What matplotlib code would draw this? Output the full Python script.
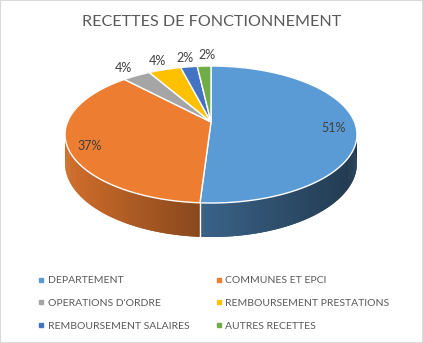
import numpy as np
import matplotlib
matplotlib.use("Agg")
import matplotlib.pyplot as plt
from matplotlib.collections import PolyCollection
from matplotlib.lines import Line2D
from matplotlib.patches import Rectangle
from matplotlib.colors import to_rgb

plt.rcParams["font.family"] = ["Lato", "DejaVu Sans"]

TITLE = "RECETTES DE FONCTIONNEMENT"
categories = [
    "DEPARTEMENT",
    "COMMUNES ET EPCI",
    "OPERATIONS D'ORDRE",
    "REMBOURSEMENT PRESTATIONS",
    "REMBOURSEMENT SALAIRES",
    "AUTRES RECETTES",
]
shares = [51.0, 37.0, 3.7, 4.3, 2.2, 1.8]
colors = ["#5B9BD5", "#ED7D31", "#A5A5A5", "#FFC000", "#4472C4", "#70AD47"]
# side wall shading multipliers (left edge, right edge) for each slice
side_shade = [(0.64, 0.37), (0.88, 0.58), (0.7, 0.5), (0.7, 0.5), (0.7, 0.5), (0.7, 0.5)]

# pie geometry in pixel space (Excel-like 3D pie with perspective)
CX, CY = 211.0, 122.0
RX, RY = 143.5, 66.2
PERSP = 5.47
DEPTH = 27.8
LABEL_COLOR = "#404040"
TEXT_COLOR = "#595959"


def project(theta, r=1.0, drop=0.0):
    """theta clockwise from 12 o'clock; returns pixel (x, y) with y downwards."""
    u = r * np.sin(theta)
    v = r * np.cos(theta)
    s = PERSP / (PERSP + v)
    return CX + RX * u * s, CY - RY * v * s + drop * s


fig = plt.figure(figsize=(4.23, 3.43), dpi=100)
ax = fig.add_axes([0, 0, 1, 1])
ax.set_xlim(0, 423)
ax.set_ylim(343, 0)
ax.axis("off")

total = sum(shares)
bounds = np.concatenate([[0], np.cumsum(shares)]) / total * 2 * np.pi

# side walls, painted back to front; strips overlap a little to hide seams
strips, strip_colors, strip_depth = [], [], []
for i, col in enumerate(colors):
    a0, a1 = bounds[i], bounds[i + 1]
    n = max(int(np.degrees(a1 - a0) * 2), 2)
    t = np.linspace(a0, a1, n + 1)
    step = t[1] - t[0]
    xs_top = [project(a)[0] for a in t]
    front = [x for a, x in zip(t, xs_top) if np.cos(a) < 0.15]
    xmin, xmax = (min(front), max(front)) if front else (0, 1)
    base = np.array(to_rgb(col))
    f_left, f_right = side_shade[i]
    for k in range(n):
        lo = t[k] - (0.6 * step if k > 0 else 0)
        hi = t[k + 1] + (0.6 * step if k < n - 1 else 0)
        p0, p1 = project(lo), project(hi)
        q1, q0 = project(hi, drop=DEPTH), project(lo, drop=DEPTH)
        xm = 0.5 * (p0[0] + p1[0])
        frac = np.clip((xm - xmin) / max(xmax - xmin, 1e-6), 0, 1)
        f = f_left + (f_right - f_left) * frac
        strips.append([p0, p1, q1, q0])
        strip_colors.append(tuple(base * f))
        strip_depth.append(np.cos(0.5 * (t[k] + t[k + 1])))

order = np.argsort(strip_depth)[::-1]
ax.add_collection(PolyCollection(
    [strips[j] for j in order],
    facecolors=[strip_colors[j] for j in order],
    edgecolors="none",
    linewidths=0,
))

# white seams on visible side boundaries
for a in bounds[1:-1]:
    if np.cos(a) < 0 and abs(np.sin(a)) < 0.97:
        x0, y0 = project(a)
        x1, y1 = project(a, drop=DEPTH)
        ax.plot([x0, x1], [y0, y1], color="white", lw=1.0)

# top faces
for i, col in enumerate(colors):
    a0, a1 = bounds[i], bounds[i + 1]
    t = np.linspace(a0, a1, max(int(np.degrees(a1 - a0) * 2), 2) + 1)
    pts = [project(0, 0)] + [project(a) for a in t]
    ax.add_patch(plt.Polygon(pts, closed=True, facecolor=col,
                             edgecolor="white", lw=1.0, joinstyle="round"))

# data labels (outside labels pushed apart when they would touch)
last_x = None
for i, share in enumerate(shares):
    mid = 0.5 * (bounds[i] + bounds[i + 1])
    if share > 10:
        x, y = project(mid, 0.85)
        y += 4
    else:
        x, y = project(mid, 1.2)
        if last_x is not None and x - last_x < 22:
            x = last_x + 22
            y -= 2
        last_x = x
    ax.text(x, y, f"{round(share)}%", ha="center", va="center",
            fontsize=9, color=LABEL_COLOR)

ax.text(211.5, 22, TITLE, ha="center", va="center", fontsize=11.6, color=TEXT_COLOR)

# legend in row-major order like Excel
handles = [Line2D([], [], marker="s", linestyle="", color=c, markersize=3.2)
           for c in colors]
order_leg = [0, 2, 4, 1, 3, 5]
fig.legend([handles[j] for j in order_leg], [categories[j] for j in order_leg],
           ncol=2, loc="upper left", bbox_to_anchor=(38 / 423, 1 - 276 / 343),
           frameon=False, fontsize=7.5, labelcolor=TEXT_COLOR,
           handlelength=0.6, handletextpad=0.35, columnspacing=2.5,
           labelspacing=1.3, borderpad=0, borderaxespad=0)

fig.patches.append(Rectangle((0, 0), 1, 1, transform=fig.transFigure,
                             fill=False, edgecolor="#d9d9d9", lw=1.5))

fig.savefig("out.png", dpi=100)
